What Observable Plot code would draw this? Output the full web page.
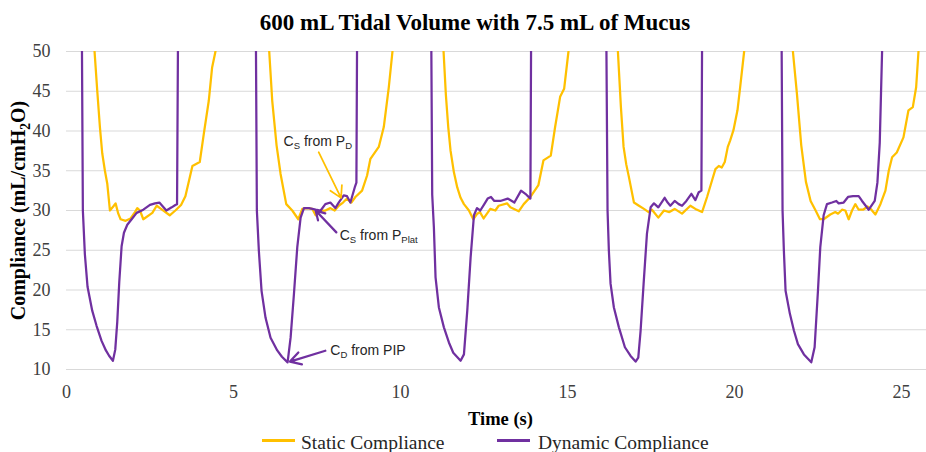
<!DOCTYPE html>
<html><head><meta charset="utf-8">
<script src="https://cdn.jsdelivr.net/npm/d3@7"></script>
<script src="https://cdn.jsdelivr.net/npm/@observablehq/plot@0.6"></script>
<style>
html,body{margin:0;padding:0;background:#fff;overflow:hidden;}
#wrap{width:926px;height:452px;position:relative;}
#title{height:46px;line-height:46px;font-family:"Liberation Serif","Times New Roman",serif;font-weight:bold;font-size:23px;color:#000;text-align:center;width:926px;padding-left:24px;box-sizing:border-box;white-space:nowrap;}
#chart svg{font-family:"Liberation Serif","Times New Roman",serif !important;font-size:18px !important;}
#legend{position:relative;height:23px;font-family:"Liberation Serif","Times New Roman",serif;font-size:19.5px;color:#262626;}
#legend .sw{position:absolute;top:9.5px;width:33px;height:3px;}
#legend .lb{position:absolute;top:2px;line-height:23px;white-space:nowrap;}
</style></head>
<body><div id="wrap"><div id="title"></div><div id="chart"></div><div id="legend"></div></div>
<script>
const chartTitle = "600 mL Tidal Volume with 7.5 mL of Mucus";
const xTitle = "Time (s)";
const yTitle = "Compliance (mL/cmH_{2}O)";
const seriesNames = ["Static Compliance", "Dynamic Compliance"];
const seriesColors = ["#FFC000", "#7030A0"];
const xTicks = [0, 5, 10, 15, 20, 25];
const yTicks = [10, 15, 20, 25, 30, 35, 40, 45, 50];

const staticTime = [0.00,0.76,0.84,0.92,1.00,1.07,1.15,1.22,1.30,1.40,1.47,1.55,1.62,1.77,1.92,2.05,2.12,2.20,2.30,2.57,2.70,2.83,3.09,3.26,3.43,3.56,3.77,3.99,4.11,4.26,4.36,4.46,4.55,
 6.00,6.07,6.16,6.29,6.41,6.49,6.58,6.76,6.94,7.06,7.21,7.36,7.46,7.61,7.75,7.90,8.03,8.15,8.28,8.40,8.53,8.65,8.85,9.00,9.10,9.35,9.50,9.65,9.76,9.83,
 11.22,11.29,11.36,11.43,11.50,11.60,11.70,11.80,11.90,12.05,12.18,12.30,12.38,12.49,12.69,12.84,12.94,13.19,13.29,13.54,13.69,13.89,14.13,14.28,14.50,14.63,14.78,14.90,15.03,15.10,
 16.44,16.51,16.60,16.68,16.76,16.84,16.99,17.14,17.29,17.43,17.53,17.72,17.89,18.05,18.21,18.43,18.68,18.83,19.03,19.18,19.33,19.43,19.53,19.62,19.71,19.80,19.87,19.97,20.09,20.17,20.29,20.36,
 21.68,21.75,21.87,22.00,22.14,22.28,22.43,22.56,22.67,22.87,23.02,23.10,23.22,23.32,23.42,23.52,23.62,23.72,23.85,23.99,24.10,24.22,24.37,24.52,24.62,24.72,24.86,25.06,25.21,25.34,25.44,25.51,25.58,25.75];
const staticCompliance = [60,60,50,45.1,40.5,37.2,35.0,33.4,30.0,30.5,30.9,29.6,28.9,28.7,29.0,29.8,30.3,30.0,28.9,29.7,30.6,30.2,29.4,30.0,30.7,31.8,35.6,36.1,39.6,43.8,48.0,50.0,60,
 60,50,43.8,38.2,34.6,32.8,30.8,30.0,28.9,30.2,30.3,30.2,29.4,30.0,30.0,30.3,30.0,30.6,31.0,31.5,31.0,31.7,32.5,34.4,36.5,38.0,40.5,45.5,50,60,
 60,50,44.5,40.5,37.5,34.8,32.9,31.6,30.8,30.0,28.9,29.6,29.8,29.0,30.2,30.0,30.6,30.9,30.4,29.9,30.8,31.7,33.2,36.3,36.9,40.5,44.3,45.3,50,60,
 60,50,43.0,38.0,35.8,34.2,31.0,30.6,30.2,29.8,30.1,29.1,30.0,29.8,30.2,29.6,30.6,30.2,29.8,31.7,33.8,35.2,35.6,35.4,36.1,38.0,38.8,40.1,42.6,45.5,50,60,
 60,50,44.7,38.2,33.6,31.2,30.0,28.9,28.9,29.5,29.8,29.6,30.1,30.0,28.9,30.0,30.8,30.1,30.1,30.5,30.1,29.5,30.8,32.5,35.0,36.7,37.3,39.2,42.6,43.0,45.5,50,60,60];

const dynamicTime = [0.00,0.45,0.49,0.55,0.63,0.77,0.90,1.05,1.18,1.28,1.39,1.46,1.52,1.58,1.65,1.72,1.82,1.95,2.10,2.30,2.50,2.65,2.78,2.99,3.15,3.26,3.31,3.35,
 5.66,5.70,5.76,5.84,5.96,6.11,6.31,6.45,6.62,6.71,6.81,6.91,7.01,7.11,7.26,7.46,7.61,7.75,7.90,8.05,8.15,8.30,8.40,8.50,8.63,8.68,8.71,
 10.91,10.95,11.00,11.05,11.15,11.30,11.45,11.58,11.80,11.90,12.00,12.10,12.20,12.29,12.39,12.51,12.61,12.71,12.81,12.99,13.21,13.41,13.61,13.74,13.89,13.92,
 16.15,16.20,16.24,16.29,16.39,16.54,16.72,16.89,17.04,17.12,17.19,17.28,17.38,17.49,17.59,17.72,17.91,18.00,18.08,18.21,18.33,18.43,18.56,18.71,18.83,18.93,19.01,19.04,
 21.40,21.44,21.48,21.53,21.66,21.78,21.90,22.08,22.30,22.40,22.50,22.57,22.67,22.77,22.92,23.05,23.12,23.27,23.40,23.55,23.72,23.82,24.02,24.20,24.28,24.35,24.42,24.45,25.75];
const dynamicCompliance = [60,60,30,24.5,20.4,17.4,15.5,13.6,12.4,11.7,11.1,12.5,16.0,21.0,25.5,27.2,28.2,28.9,29.7,30.1,30.7,30.9,31.0,30.0,30.4,30.7,30.8,60,
 60,30,24.9,19.9,16.5,14.0,12.4,11.6,10.9,14.0,19.5,25.4,29.1,30.3,30.3,30.1,30.0,30.8,31.0,30.3,31.0,31.9,31.8,31.0,32.9,33.5,60,
 60,32,27.9,21.6,17.8,15.3,13.4,12.1,11.1,11.9,17.4,24.1,29.4,30.3,30.0,30.8,31.5,31.7,31.2,31.2,31.5,31.0,32.5,32.1,31.5,60,
 60,30,24.9,20.8,17.8,15.3,12.8,11.7,11.0,11.5,14.9,20.8,27.1,30.4,30.9,30.4,31.6,31.0,30.6,31.2,30.8,30.6,31.2,32.1,31.3,32.3,32.5,60,
 60,30,24.9,19.9,17.0,14.9,13.2,11.9,10.9,12.8,19.9,25.4,29.4,30.8,31.0,31.2,30.9,31.0,31.7,31.8,31.8,31.2,30.1,31.2,33.5,38.5,50,60,60];

// annotations (data units)
const annoLabels = ["C_{S} from P_{D}", "C_{S} from P_{Plat}", "C_{D} from PIP"];
const annoLabelTime = [6.50, 8.18, 7.90];
const annoLabelCompliance = [38.68, 26.86, 12.39];
const annoSeries = [0, 1, 1];
const arrowFromTime = [7.55, 8.08, 7.75];
const arrowFromCompliance = [37.33, 27.25, 12.36];
const arrowToTime = [8.22, 7.46, 6.69];
const arrowToCompliance = [31.59, 29.99, 11.0];

const staticData = staticTime.map((t, i) => ({t, c: staticCompliance[i]}));
const dynamicData = dynamicTime.map((t, i) => ({t, c: dynamicCompliance[i]}));
const annos = annoLabels.map((label, i) => ({label, t: annoLabelTime[i], c: annoLabelCompliance[i], s: annoSeries[i],
  t1: arrowFromTime[i], c1: arrowFromCompliance[i], t2: arrowToTime[i], c2: arrowToCompliance[i]}));

document.getElementById("title").textContent = chartTitle;

const chart = Plot.plot({
  width: 926, height: 383,
  marginTop: 5, marginBottom: 60, marginLeft: 66, marginRight: 0,
  style: {fontFamily: '"Liberation Serif", serif', fontSize: "18px", color: "#404040", background: "transparent", overflow: "visible"},
  x: {domain: [0, 25.75], ticks: xTicks, tickSize: 0, tickPadding: 16, label: null, tickFormat: d => String(d)},
  y: {domain: [10, 50], ticks: yTicks, tickSize: 0, tickPadding: 16, label: null, tickFormat: d => String(d)},
  marks: [
    Plot.ruleY(yTicks, {stroke: "#d9d9d9", strokeWidth: 1}),
    Plot.line(staticData, {x: "t", y: "c", stroke: seriesColors[0], strokeWidth: 2.25, strokeLinejoin: "round", clip: true}),
    Plot.line(dynamicData, {x: "t", y: "c", stroke: seriesColors[1], strokeWidth: 2.25, strokeLinejoin: "round", clip: true}),
    Plot.arrow(annos.filter(d => d.s === 0), {x1: "t1", y1: "c1", x2: "t2", y2: "c2", stroke: seriesColors[0], strokeWidth: 1.75, headLength: 11, bend: 0}),
    Plot.arrow(annos.filter(d => d.s === 1), {x1: "t1", y1: "c1", x2: "t2", y2: "c2", stroke: seriesColors[1], strokeWidth: 2.25, headLength: 11, bend: 0}),
    Plot.text(annos, {x: "t", y: "c", text: "label", textAnchor: "start", fontFamily: '"Liberation Sans", Arial, sans-serif', fontSize: 14, fill: "#262626"}),
    Plot.text([xTitle], {frameAnchor: "bottom", dy: 50, dx: 4, text: d => d, textAnchor: "middle", lineAnchor: "middle", fontWeight: "bold", fontSize: 18.5, fill: "#000"}),
    Plot.text([yTitle], {frameAnchor: "left", dx: -48, rotate: -90, text: d => d, textAnchor: "middle", lineAnchor: "middle", fontWeight: "bold", fontSize: 20, fill: "#000"})
  ]
});
document.getElementById("chart").appendChild(chart);

function applySubscripts(root) {
  const ns = "http://www.w3.org/2000/svg";
  root.querySelectorAll("text").forEach(el => {
    const s = el.textContent;
    if (!s.includes("_{")) return;
    const fs = parseFloat(getComputedStyle(el).fontSize) || 14;
    const shift = fs * 0.25;
    while (el.firstChild) el.removeChild(el.firstChild);
    const re = /_\{([^}]*)\}/g;
    let last = 0, m, pending = 0;
    const addNormal = str => {
      const t = document.createElementNS(ns, "tspan");
      t.textContent = str;
      if (pending) { t.setAttribute("dy", -pending); pending = 0; }
      el.appendChild(t);
    };
    while ((m = re.exec(s))) {
      if (m.index > last) addNormal(s.slice(last, m.index));
      const sub = document.createElementNS(ns, "tspan");
      sub.textContent = m[1];
      sub.setAttribute("font-size", fs * 0.68);
      sub.setAttribute("dy", shift);
      el.appendChild(sub);
      pending = shift;
      last = re.lastIndex;
    }
    if (last < s.length) addNormal(s.slice(last));
  });
}
applySubscripts(chart);

const legend = document.getElementById("legend");
const legendPos = [[262, 301], [497, 538]];
seriesNames.forEach((name, i) => {
  const sw = document.createElement("div");
  sw.className = "sw"; sw.style.left = legendPos[i][0] + "px"; sw.style.background = seriesColors[i];
  const lb = document.createElement("div");
  lb.className = "lb"; lb.style.left = legendPos[i][1] + "px"; lb.textContent = name;
  legend.appendChild(sw); legend.appendChild(lb);
});
</script></body></html>
